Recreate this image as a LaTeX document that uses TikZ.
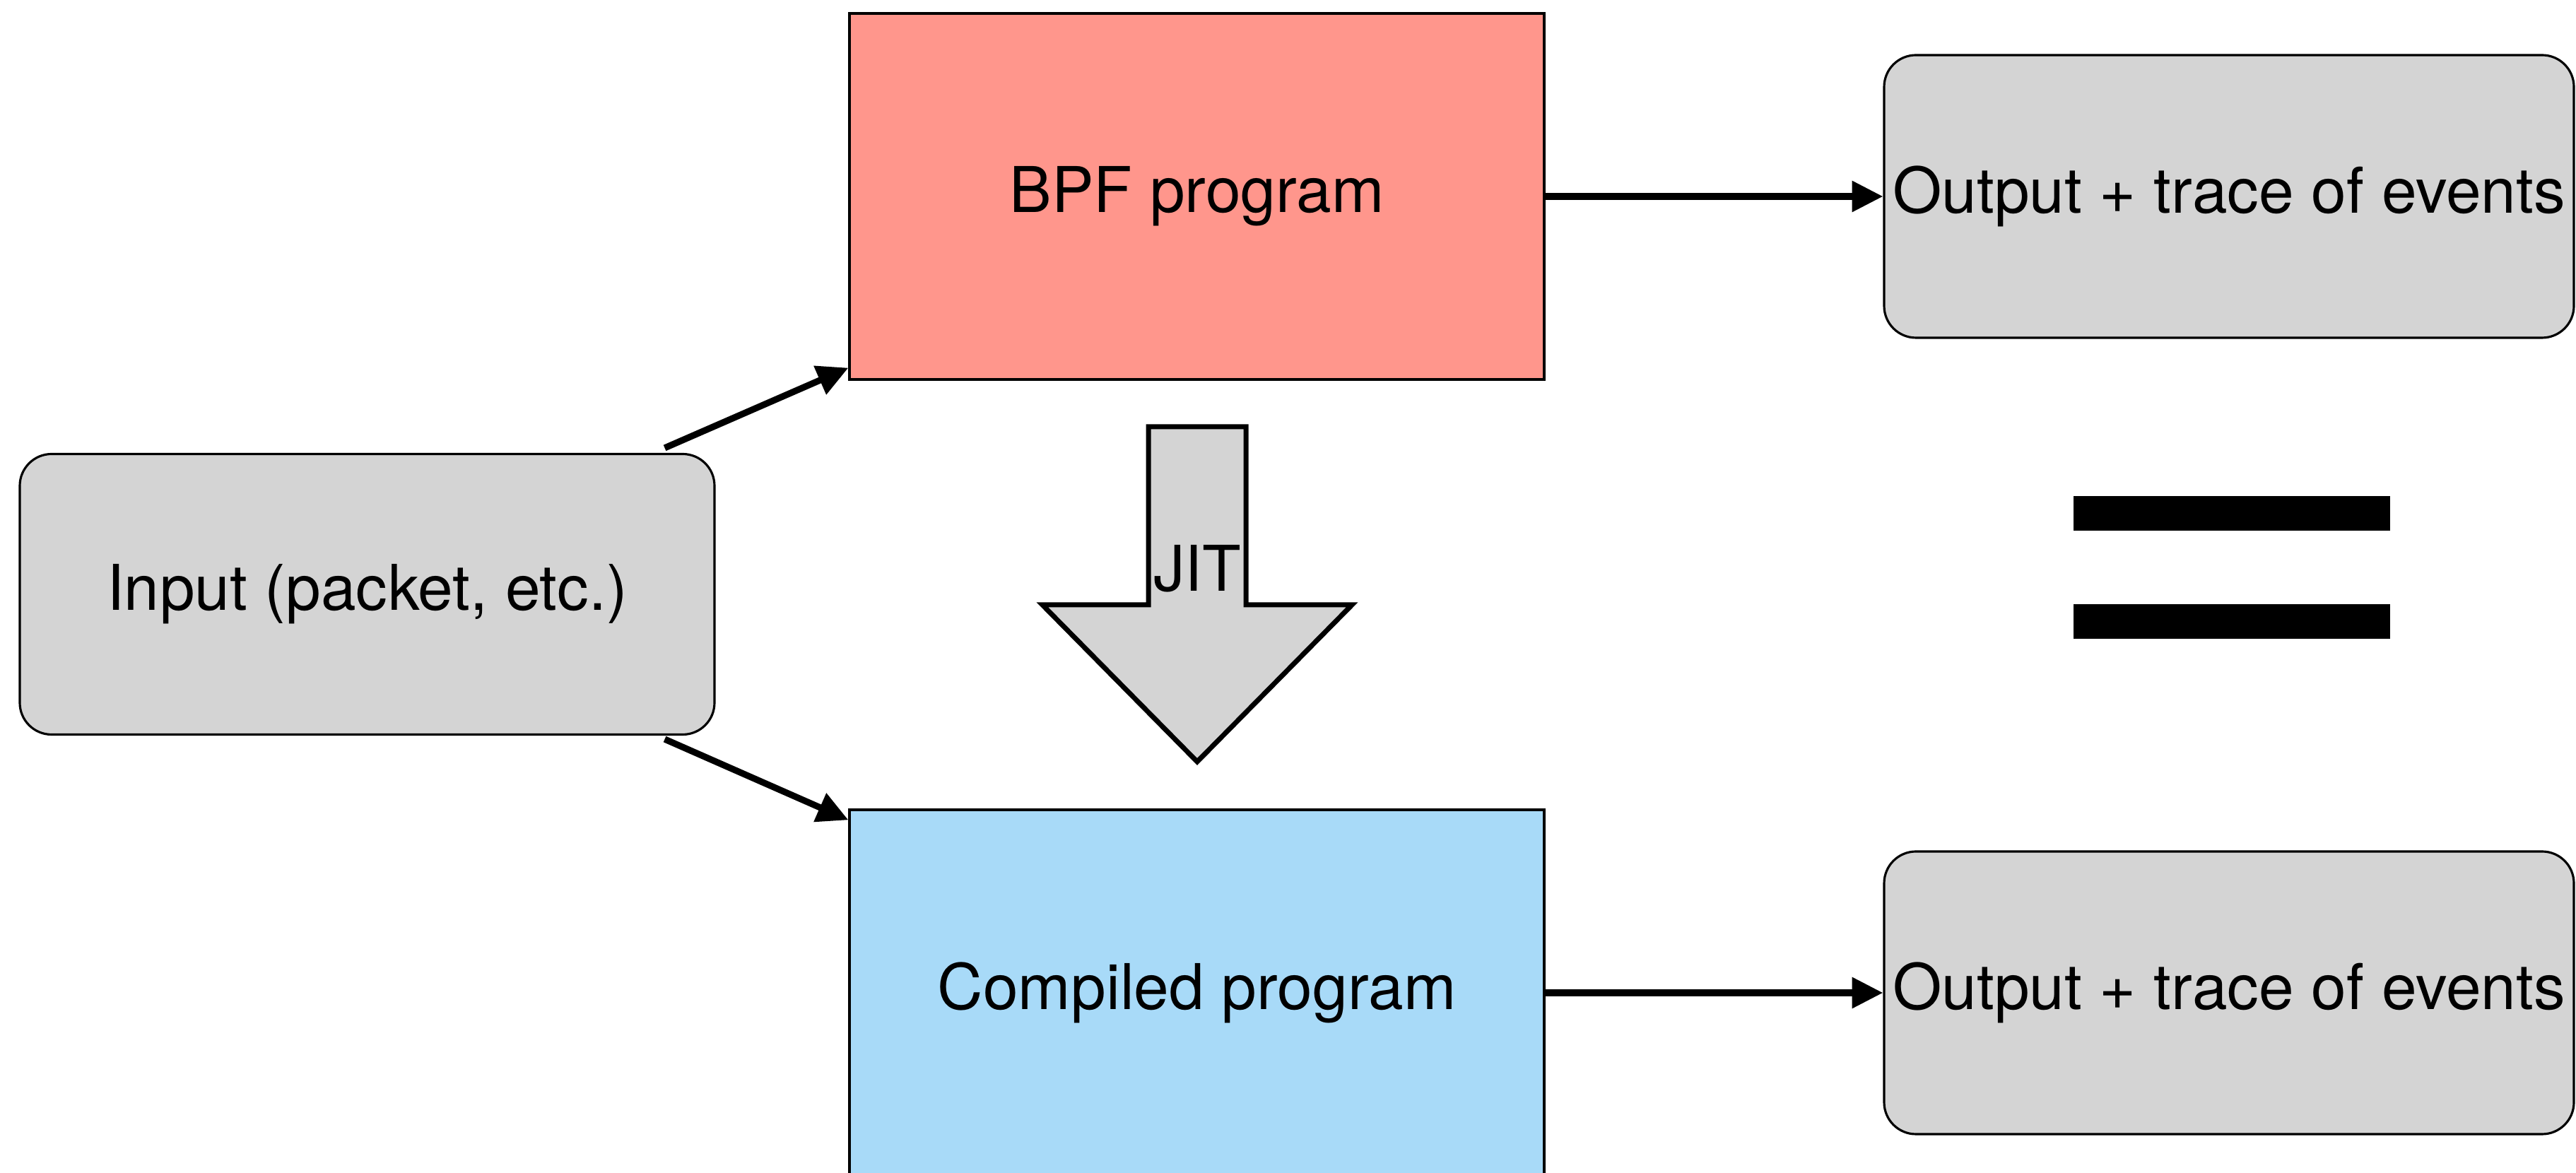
\documentclass[tikz,border=0pt]{standalone}
\usepackage{fontspec}
\setmainfont{TeX Gyre Heros}
\usepackage{xcolor}
\usepackage{tikz}
\usetikzlibrary{arrows.meta}
\definecolor{bpfred}{RGB}{255,150,140}
\definecolor{jitblue}{RGB}{168,218,248}
\definecolor{boxgray}{RGB}{212,212,212}

\begin{document}
\begin{tikzpicture}[
  box/.style={draw=black, line width=0.9pt, inner sep=0pt, font=\fontsize{25.4}{30}\selectfont},
  prog/.style={box, minimum width=9.83cm, minimum height=5.18cm},
  io/.style={box, fill=boxgray, rounded corners=0.45cm},
  flow/.style={-{Triangle[length=12.5pt,width=12pt]}, line width=2.6pt}
]
\useasboundingbox (0,0) rectangle (36.45,16.60);
\node[prog, fill=bpfred] (bpf) at (16.935,13.82) {BPF program};
\node[prog, fill=jitblue] (cmp) at (16.935,2.55) {Compiled program};
\node[io, minimum width=9.83cm, minimum height=3.97cm] (in) at (5.195,8.19) {Input (packet, etc.)};
\node[io, minimum width=9.76cm, minimum height=4cm] (out1) at (31.54,13.82) {Output + trace of events};
\node[io, minimum width=9.76cm, minimum height=4cm] (out2) at (31.54,2.55) {Output + trace of events};

% input goes to both programs
\draw[flow] ([xshift=-0.72cm,yshift=0.07cm]in.north east) -- ([yshift=0.18cm]bpf.south west);
\draw[flow] ([xshift=-0.72cm,yshift=-0.05cm]in.south east) -- ([yshift=-0.16cm]cmp.north west);
\draw[flow] (bpf) -- (out1);
\draw[flow] (cmp) -- (out2);

% JIT block arrow
\filldraw[fill=boxgray, line width=2pt] (16.25,10.56) -- (17.63,10.56) -- (17.63,8.04) -- (19.13,8.04) -- (16.94,5.82) -- (14.75,8.04) -- (16.25,8.04) -- cycle;
\node[font=\fontsize{25.4}{30}\selectfont, anchor=base, inner sep=0pt] (jit) at (16.94,8.23) {JIT};

% equals sign
\fill (29.34,9.09) rectangle (33.82,9.58);
\fill (29.34,7.56) rectangle (33.82,8.05);
\end{tikzpicture}
\end{document}
